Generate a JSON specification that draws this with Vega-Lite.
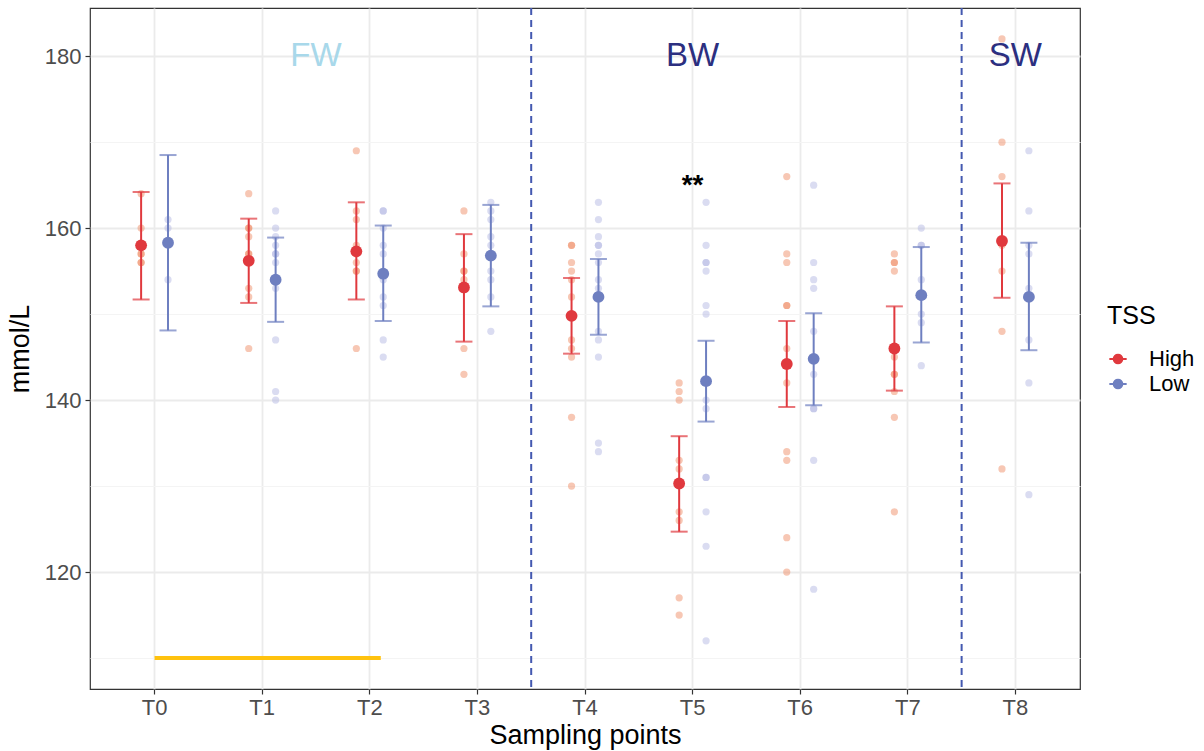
{
  "$schema": "https://vega.github.io/schema/vega-lite/v6.json",
  "width": 990,
  "height": 681,
  "autosize": {"type": "none"},
  "padding": {"left": 90, "top": 8, "right": 124, "bottom": 62},
  "background": "white",
  "config": {
    "font": "Liberation Sans",
    "view": {"stroke": "#333333", "strokeWidth": 1.2},
    "axis": {"domain": false, "tickColor": "#333333", "tickSize": 5, "tickWidth": 1.2, "labelColor": "#4D4D4D", "labelFontSize": 22, "titleFontSize": 27, "titleFontWeight": "normal", "titleColor": "black", "labelFont": "Liberation Sans", "titleFont": "Liberation Sans"},
    "legend": {"titleFont": "Liberation Sans", "labelFont": "Liberation Sans"}
  },
  "datasets": {
    "pts": [
      {"t":"T0","grp":"High","v":164},{"t":"T0","grp":"High","v":160},{"t":"T0","grp":"High","v":157},{"t":"T0","grp":"High","v":157},{"t":"T0","grp":"High","v":156},{"t":"T0","grp":"High","v":156},
      {"t":"T0","grp":"Low","v":161},{"t":"T0","grp":"Low","v":160},{"t":"T0","grp":"Low","v":154},
      {"t":"T1","grp":"High","v":164},{"t":"T1","grp":"High","v":160},{"t":"T1","grp":"High","v":160},{"t":"T1","grp":"High","v":159},{"t":"T1","grp":"High","v":157},{"t":"T1","grp":"High","v":157},{"t":"T1","grp":"High","v":156},{"t":"T1","grp":"High","v":153},{"t":"T1","grp":"High","v":152},{"t":"T1","grp":"High","v":146},
      {"t":"T1","grp":"Low","v":162},{"t":"T1","grp":"Low","v":160},{"t":"T1","grp":"Low","v":159},{"t":"T1","grp":"Low","v":158},{"t":"T1","grp":"Low","v":157},{"t":"T1","grp":"Low","v":157},{"t":"T1","grp":"Low","v":156},{"t":"T1","grp":"Low","v":153},{"t":"T1","grp":"Low","v":147},{"t":"T1","grp":"Low","v":141},{"t":"T1","grp":"Low","v":140},
      {"t":"T2","grp":"High","v":169},{"t":"T2","grp":"High","v":162},{"t":"T2","grp":"High","v":161},{"t":"T2","grp":"High","v":158},{"t":"T2","grp":"High","v":157},{"t":"T2","grp":"High","v":156},{"t":"T2","grp":"High","v":155},{"t":"T2","grp":"High","v":155},{"t":"T2","grp":"High","v":146},
      {"t":"T2","grp":"Low","v":162},{"t":"T2","grp":"Low","v":162},{"t":"T2","grp":"Low","v":160},{"t":"T2","grp":"Low","v":158},{"t":"T2","grp":"Low","v":157},{"t":"T2","grp":"Low","v":154},{"t":"T2","grp":"Low","v":152},{"t":"T2","grp":"Low","v":151},{"t":"T2","grp":"Low","v":147},{"t":"T2","grp":"Low","v":145},
      {"t":"T3","grp":"High","v":162},{"t":"T3","grp":"High","v":157},{"t":"T3","grp":"High","v":155},{"t":"T3","grp":"High","v":155},{"t":"T3","grp":"High","v":154},{"t":"T3","grp":"High","v":146},{"t":"T3","grp":"High","v":143},
      {"t":"T3","grp":"Low","v":163},{"t":"T3","grp":"Low","v":162},{"t":"T3","grp":"Low","v":161},{"t":"T3","grp":"Low","v":159},{"t":"T3","grp":"Low","v":158},{"t":"T3","grp":"Low","v":155},{"t":"T3","grp":"Low","v":154},{"t":"T3","grp":"Low","v":152},{"t":"T3","grp":"Low","v":148},
      {"t":"T4","grp":"High","v":158},{"t":"T4","grp":"High","v":158},{"t":"T4","grp":"High","v":156},{"t":"T4","grp":"High","v":155},{"t":"T4","grp":"High","v":154},{"t":"T4","grp":"High","v":152},{"t":"T4","grp":"High","v":147},{"t":"T4","grp":"High","v":146},{"t":"T4","grp":"High","v":145},{"t":"T4","grp":"High","v":138},{"t":"T4","grp":"High","v":130},
      {"t":"T4","grp":"Low","v":163},{"t":"T4","grp":"Low","v":161},{"t":"T4","grp":"Low","v":159},{"t":"T4","grp":"Low","v":158},{"t":"T4","grp":"Low","v":158},{"t":"T4","grp":"Low","v":157},{"t":"T4","grp":"Low","v":156},{"t":"T4","grp":"Low","v":154},{"t":"T4","grp":"Low","v":153},{"t":"T4","grp":"Low","v":148},{"t":"T4","grp":"Low","v":147},{"t":"T4","grp":"Low","v":145},{"t":"T4","grp":"Low","v":135},{"t":"T4","grp":"Low","v":134},
      {"t":"T5","grp":"High","v":142},{"t":"T5","grp":"High","v":141},{"t":"T5","grp":"High","v":140},{"t":"T5","grp":"High","v":133},{"t":"T5","grp":"High","v":132},{"t":"T5","grp":"High","v":127},{"t":"T5","grp":"High","v":126},{"t":"T5","grp":"High","v":117},{"t":"T5","grp":"High","v":115},
      {"t":"T5","grp":"Low","v":163},{"t":"T5","grp":"Low","v":158},{"t":"T5","grp":"Low","v":156},{"t":"T5","grp":"Low","v":156},{"t":"T5","grp":"Low","v":155},{"t":"T5","grp":"Low","v":151},{"t":"T5","grp":"Low","v":150},{"t":"T5","grp":"Low","v":140},{"t":"T5","grp":"Low","v":139},{"t":"T5","grp":"Low","v":131},{"t":"T5","grp":"Low","v":131},{"t":"T5","grp":"Low","v":127},{"t":"T5","grp":"Low","v":123},{"t":"T5","grp":"Low","v":112},
      {"t":"T6","grp":"High","v":166},{"t":"T6","grp":"High","v":157},{"t":"T6","grp":"High","v":156},{"t":"T6","grp":"High","v":151},{"t":"T6","grp":"High","v":151},{"t":"T6","grp":"High","v":146},{"t":"T6","grp":"High","v":142},{"t":"T6","grp":"High","v":134},{"t":"T6","grp":"High","v":133},{"t":"T6","grp":"High","v":124},{"t":"T6","grp":"High","v":120},
      {"t":"T6","grp":"Low","v":165},{"t":"T6","grp":"Low","v":156},{"t":"T6","grp":"Low","v":154},{"t":"T6","grp":"Low","v":153},{"t":"T6","grp":"Low","v":148},{"t":"T6","grp":"Low","v":143},{"t":"T6","grp":"Low","v":139},{"t":"T6","grp":"Low","v":139},{"t":"T6","grp":"Low","v":133},{"t":"T6","grp":"Low","v":118},
      {"t":"T7","grp":"High","v":157},{"t":"T7","grp":"High","v":156},{"t":"T7","grp":"High","v":156},{"t":"T7","grp":"High","v":155},{"t":"T7","grp":"High","v":145},{"t":"T7","grp":"High","v":143},{"t":"T7","grp":"High","v":143},{"t":"T7","grp":"High","v":141},{"t":"T7","grp":"High","v":138},{"t":"T7","grp":"High","v":127},
      {"t":"T7","grp":"Low","v":160},{"t":"T7","grp":"Low","v":158},{"t":"T7","grp":"Low","v":158},{"t":"T7","grp":"Low","v":154},{"t":"T7","grp":"Low","v":152},{"t":"T7","grp":"Low","v":150},{"t":"T7","grp":"Low","v":149},{"t":"T7","grp":"Low","v":144},
      {"t":"T8","grp":"High","v":182},{"t":"T8","grp":"High","v":170},{"t":"T8","grp":"High","v":166},{"t":"T8","grp":"High","v":158},{"t":"T8","grp":"High","v":155},{"t":"T8","grp":"High","v":148},{"t":"T8","grp":"High","v":132},
      {"t":"T8","grp":"Low","v":169},{"t":"T8","grp":"Low","v":162},{"t":"T8","grp":"Low","v":158},{"t":"T8","grp":"Low","v":157},{"t":"T8","grp":"Low","v":153},{"t":"T8","grp":"Low","v":147},{"t":"T8","grp":"Low","v":142},{"t":"T8","grp":"Low","v":129}
    ],
    "summ": [
      {"t":"T0","tss":"High","mean":158.0,"lo":151.7,"hi":164.2},{"t":"T0","tss":"Low","mean":158.3,"lo":148.1,"hi":168.5},
      {"t":"T1","tss":"High","mean":156.2,"lo":151.3,"hi":161.1},{"t":"T1","tss":"Low","mean":154.0,"lo":149.1,"hi":158.9},
      {"t":"T2","tss":"High","mean":157.3,"lo":151.7,"hi":163.0},{"t":"T2","tss":"Low","mean":154.7,"lo":149.2,"hi":160.3},
      {"t":"T3","tss":"High","mean":153.1,"lo":146.8,"hi":159.3},{"t":"T3","tss":"Low","mean":156.8,"lo":150.9,"hi":162.7},
      {"t":"T4","tss":"High","mean":149.8,"lo":145.4,"hi":154.2},{"t":"T4","tss":"Low","mean":152.0,"lo":147.6,"hi":156.4},
      {"t":"T5","tss":"High","mean":130.3,"lo":124.7,"hi":135.8},{"t":"T5","tss":"Low","mean":142.2,"lo":137.5,"hi":146.9},
      {"t":"T6","tss":"High","mean":144.2,"lo":139.2,"hi":149.2},{"t":"T6","tss":"Low","mean":144.8,"lo":139.4,"hi":150.1},
      {"t":"T7","tss":"High","mean":146.0,"lo":141.1,"hi":150.9},{"t":"T7","tss":"Low","mean":152.2,"lo":146.7,"hi":157.8},
      {"t":"T8","tss":"High","mean":158.5,"lo":151.9,"hi":165.2},{"t":"T8","tss":"Low","mean":152.0,"lo":145.8,"hi":158.3}
    ],
    "vlines": [{"t":"T4"},{"t":"T8"}],
    "bar": [{"from":"T0","to":"T2","y":110}],
    "fw": [{"t":"T2","label":"FW","y":180}],
    "zones": [{"t":"T5","label":"BW","y":180},{"t":"T8","label":"SW","y":180}],
    "star": [{"t":"T5","label":"**","y":164}]
  },
  "encoding": {
    "x": {
      "field": "t", "type": "nominal",
      "scale": {"type": "band", "domain": ["T0","T1","T2","T3","T4","T5","T6","T7","T8"], "paddingInner": 0, "paddingOuter": 0.1},
      "axis": {"title": "Sampling points", "labelAngle": 0, "gridColor": "#EBEBEB", "gridWidth": 1.8, "grid": true, "labelPadding": 3, "titlePadding": 4}
    }
  },
  "layer": [
    {
      "data": {"name": "vlines"},
      "mark": {"type": "rule", "color": "#4459B0", "strokeWidth": 2, "strokeDash": [7, 5]},
      "encoding": {
        "x": {"field": "t", "type": "nominal", "bandPosition": 0},
        "y": {"value": 0},
        "y2": {"value": 681}
      }
    },
    {
      "data": {"name": "bar"},
      "mark": {"type": "rule", "color": "#FFC20E", "strokeWidth": 4, "x2Offset": 11},
      "encoding": {
        "x": {"field": "from", "type": "nominal"},
        "x2": {"field": "to"},
        "y": {
          "field": "y", "type": "quantitative",
          "scale": {"domain": [106.4, 185.6], "nice": false, "zero": false},
          "axis": {
            "title": "mmol/L",
            "values": [110,120,130,140,150,160,170,180],
            "labelExpr": "datum.value % 20 === 0 ? datum.label : ''",
            "gridColor": {"condition": {"test": "datum.value % 20 === 0", "value": "#EBEBEB"}, "value": "#F4F4F4"},
            "gridWidth": {"condition": {"test": "datum.value % 20 === 0", "value": 1.8}, "value": 1},
            "tickOpacity": {"condition": {"test": "datum.value % 20 === 0", "value": 1}, "value": 0},
            "labelPadding": 4,
            "titlePadding": 10
          }
        }
      }
    },
    {
      "data": {"name": "pts"},
      "mark": {"type": "point", "filled": true, "size": 52, "opacity": 0.48, "strokeWidth": 0},
      "encoding": {
        "xOffset": {"field": "grp", "type": "nominal", "scale": {"domain": ["High","Low"], "paddingInner": 0, "paddingOuter": 1.45}},
        "y": {"field": "v", "type": "quantitative"},
        "fill": {"condition": {"test": "datum.grp === 'High'", "value": "#EF8A62"}, "value": "#B2B6E2"}
      }
    },
    {
      "data": {"name": "summ"},
      "mark": {"type": "rule", "strokeWidth": 2},
      "encoding": {
        "xOffset": {"field": "tss", "type": "nominal"},
        "y": {"field": "lo", "type": "quantitative"},
        "y2": {"field": "hi"},
        "color": {"field": "tss", "type": "nominal"}
      }
    },
    {
      "data": {"name": "summ"},
      "mark": {"type": "tick", "size": 17, "thickness": 2},
      "encoding": {
        "xOffset": {"field": "tss", "type": "nominal"},
        "y": {"field": "lo", "type": "quantitative"},
        "color": {"field": "tss", "type": "nominal"}
      }
    },
    {
      "data": {"name": "summ"},
      "mark": {"type": "tick", "size": 17, "thickness": 2},
      "encoding": {
        "xOffset": {"field": "tss", "type": "nominal"},
        "y": {"field": "hi", "type": "quantitative"},
        "color": {"field": "tss", "type": "nominal"}
      }
    },
    {
      "data": {"name": "summ"},
      "mark": {"type": "point", "filled": true, "size": 140, "opacity": 1},
      "encoding": {
        "xOffset": {"field": "tss", "type": "nominal"},
        "y": {"field": "mean", "type": "quantitative"},
        "color": {
          "field": "tss", "type": "nominal",
          "scale": {"domain": ["High","Low"], "range": ["#E0393E", "#6E7FC0"]},
          "legend": {
            "title": "TSS",
            "orient": "none",
            "legendX": 1017,
            "legendY": 296,
            "titleFontSize": 25,
            "titleFontWeight": "normal",
            "titleColor": "black",
            "titlePadding": 19,
            "labelFontSize": 22,
            "labelColor": "black",
            "labelOffset": 20,
            "rowPadding": 3,
            "symbolType": "M-1,0L1,0M0.5,0L0.462,0.191L0.354,0.354L0.191,0.462L0,0.5L-0.191,0.462L-0.354,0.354L-0.462,0.191L-0.5,0L-0.462,-0.191L-0.354,-0.354L-0.191,-0.462L0,-0.5L0.191,-0.462L0.354,-0.354L0.462,-0.191Z",
            "symbolSize": 300,
            "symbolStrokeWidth": 2,
            "symbolOpacity": 1,
            "encode": {"symbols": {"update": {"stroke": {"scale": "color", "field": "value"}}}}
          }
        }
      }
    },
    {
      "data": {"name": "fw"},
      "mark": {"type": "text", "fontSize": 33, "color": "#A8D8EA", "baseline": "middle", "align": "center"},
      "encoding": {
        "x": {"field": "t", "type": "nominal", "bandPosition": 0},
        "y": {"field": "y", "type": "quantitative"},
        "text": {"field": "label"}
      }
    },
    {
      "data": {"name": "zones"},
      "mark": {"type": "text", "fontSize": 33, "color": "#2C2F80", "baseline": "middle", "align": "center"},
      "encoding": {
        "y": {"field": "y", "type": "quantitative"},
        "text": {"field": "label"}
      }
    },
    {
      "data": {"name": "star"},
      "mark": {"type": "text", "fontSize": 28, "fontWeight": "bold", "color": "black", "baseline": "alphabetic", "align": "center"},
      "encoding": {
        "y": {"field": "y", "type": "quantitative"},
        "text": {"field": "label"}
      }
    }
  ]
}
